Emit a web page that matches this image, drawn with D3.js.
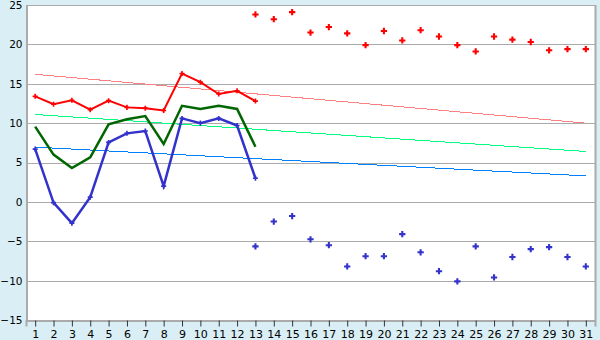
<!DOCTYPE html>
<html lang="en">
<head>
<meta charset="UTF-8" />
<script src="https://d3js.org/d3.v7.min.js"></script>
<style>
  body { margin: 0; background: #d9eff5; }
  svg { display: block; }
</style>
</head>
<body>
<script>
var w = 600, h = 340;

// days of month
var days = d3.range(1, 32);

// lines for days 1-13
var redLine = [13.4, 12.4, 12.9, 11.7, 12.85, 12.0, 11.9, 11.6, 16.3, 15.2, 13.7, 14.1, 12.8];
var greenLine = [9.55, 6.0, 4.3, 5.65, 9.85, 10.5, 10.9, 7.35, 12.2, 11.8, 12.2, 11.8, 7.0];
var blueLine = [6.7, -0.1, -2.7, 0.6, 7.55, 8.7, 9.0, 2.0, 10.6, 10.0, 10.6, 9.7, 3.0];

// scattered points for days 13-31
var redDots = [23.8, 23.2, 24.1, 21.5, 22.2, 21.4, 19.9, 21.7, 20.5, 21.8, 21.0, 19.9, 19.1, 21.0, 20.6, 20.3, 19.25, 19.4, 19.4];
var blueDots = [-5.65, -2.5, -1.8, -4.75, -5.5, -8.2, -6.9, -6.9, -4.1, -6.4, -8.8, -10.1, -5.65, -9.6, -7.0, -6.0, -5.75, -7.0, -8.2];

// trend lines: [value at day 1, value at day 31]
var redTrend = [16.2, 10.0];
var greenTrend = [11.1, 6.4];
var blueTrend = [6.95, 3.3];

var yTicks = [-15, -10, -5, 0, 5, 10, 15, 20, 25];

var m = { left: 26, right: 595, top: 5, bottom: 320 };

var x = d3.scalePoint().domain(days).range([m.left, m.right]).padding(0.5);
var y = d3.scaleLinear().domain([-15, 25]).range([m.bottom, m.top]);

var svg = d3.select("body").append("svg")
  .attr("width", w).attr("height", h)
  .style("font-family", "DejaVu Sans")
  .style("font-size", "11px");

svg.append("rect")
  .attr("x", m.left).attr("y", m.top)
  .attr("width", m.right - m.left).attr("height", m.bottom - m.top)
  .attr("fill", "#fff");

// grid
svg.append("g").selectAll("line")
  .data(yTicks)
  .enter().append("line")
  .attr("x1", m.left).attr("x2", m.right)
  .attr("y1", function (d) { return Math.round(y(d)) + 0.5; })
  .attr("y2", function (d) { return Math.round(y(d)) + 0.5; })
  .attr("stroke", "#aaa")
  .attr("stroke-width", 1);

// frame
svg.append("line").attr("x1", m.right + 0.5).attr("x2", m.right + 0.5).attr("y1", m.top).attr("y2", m.bottom)
  .attr("stroke", "#aaa").attr("stroke-width", 2);

var yAxis = d3.axisLeft(y).tickValues(yTicks).tickSize(0).tickPadding(4);
var gy = svg.append("g").attr("transform", "translate(" + (m.left + 0.5) + ",0)").call(yAxis);
gy.select(".domain").attr("stroke", "#aaa").attr("stroke-width", 2);
gy.selectAll("text").attr("fill", "#000").style("font-family", "DejaVu Sans").style("font-size", "10.5px");

var xAxis = d3.axisBottom(x).tickSize(6).tickPadding(4);
var gx = svg.append("g").attr("transform", "translate(0," + (m.bottom + 0.5) + ")").call(xAxis);
gx.select(".domain").attr("stroke", "#aaa").attr("stroke-width", 2);
gx.selectAll(".tick line").attr("stroke", "#333");
gx.selectAll("text").attr("fill", "#000").style("font-family", "DejaVu Sans").style("font-size", "11px");

// trend lines
function trend(vals, color) {
  svg.append("line")
    .attr("x1", x(1)).attr("x2", x(31))
    .attr("y1", y(vals[0])).attr("y2", y(vals[1]))
    .attr("stroke", color).attr("stroke-width", 1)
    .attr("shape-rendering", "crispEdges");
}
trend(redTrend, "#ff8080");
trend(greenTrend, "#00ff80");
trend(blueTrend, "#0080ff");

var line = d3.line()
  .x(function (d, i) { return x(days[i]); })
  .y(function (d) { return y(d); });

function drawLine(vals, color, width) {
  svg.append("path")
    .attr("d", line(vals))
    .attr("fill", "none")
    .attr("stroke", color)
    .attr("stroke-width", width);
}

function drawMarks(vals, startDay, color, size) {
  svg.append("g").selectAll("path")
    .data(vals)
    .enter().append("path")
    .attr("d", d3.symbol().type(d3.symbolCross).size(size))
    .attr("transform", function (d, i) { return "translate(" + x(startDay + i) + "," + y(d) + ")"; })
    .attr("fill", color);
}

drawLine(greenLine, "#006600", 2.5);
drawLine(blueLine, "#3333cc", 2.5);
drawMarks(blueLine, 1, "#3333cc", 14);
drawLine(redLine, "#ff0000", 2);
drawMarks(redLine, 1, "#ff0000", 14);

drawMarks(redDots, 13, "#ff0000", 22);
drawMarks(blueDots, 13, "#3333cc", 22);
</script>
</body>
</html>
